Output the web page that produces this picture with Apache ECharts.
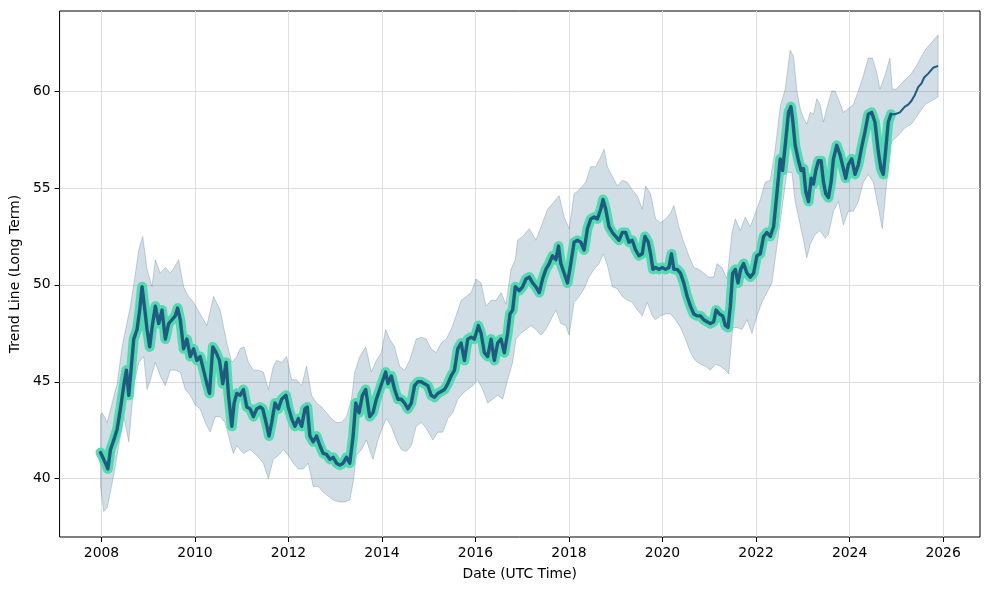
<!DOCTYPE html>
<html>
<head>
<meta charset="utf-8">
<script src="https://cdn.jsdelivr.net/npm/echarts@6/dist/echarts.min.js"></script>
<style>
html,body{margin:0;padding:0;background:#ffffff;}
#chart{width:989px;height:590px;}
</style>
</head>
<body>
<div id="chart"></div>
<script>
// ---- DATA ----
const trendYears = [2007.98,2008.086,2008.136,2008.193,2008.264,2008.335,2008.406,2008.477,2008.534,2008.584,2008.633,2008.69,2008.761,2008.818,2008.868,2008.918,2008.975,2009.032,2009.088,2009.152,2009.224,2009.295,2009.366,2009.437,2009.508,2009.579,2009.629,2009.685,2009.757,2009.828,2009.899,2009.97,2010.041,2010.112,2010.183,2010.254,2010.311,2010.382,2010.453,2010.524,2010.595,2010.666,2010.717,2010.788,2010.837,2010.894,2010.965,2011.036,2011.108,2011.179,2011.25,2011.321,2011.392,2011.449,2011.52,2011.584,2011.641,2011.712,2011.783,2011.854,2011.946,2011.996,2012.067,2012.138,2012.21,2012.281,2012.352,2012.401,2012.458,2012.529,2012.6,2012.672,2012.743,2012.814,2012.885,2012.956,2013.027,2013.098,2013.169,2013.24,2013.311,2013.382,2013.439,2013.51,2013.581,2013.652,2013.737,2013.808,2013.879,2013.95,2014.021,2014.078,2014.128,2014.199,2014.27,2014.341,2014.412,2014.483,2014.555,2014.626,2014.697,2014.768,2014.839,2014.91,2014.981,2015.052,2015.123,2015.194,2015.265,2015.337,2015.408,2015.479,2015.55,2015.621,2015.692,2015.763,2015.834,2015.905,2015.976,2016.062,2016.119,2016.19,2016.261,2016.332,2016.403,2016.474,2016.545,2016.616,2016.687,2016.737,2016.794,2016.851,2016.936,2017.007,2017.079,2017.15,2017.221,2017.292,2017.363,2017.434,2017.505,2017.576,2017.647,2017.718,2017.775,2017.825,2017.896,2017.967,2018.038,2018.109,2018.18,2018.252,2018.323,2018.394,2018.465,2018.536,2018.607,2018.678,2018.728,2018.785,2018.856,2018.927,2018.998,2019.069,2019.14,2019.211,2019.282,2019.353,2019.424,2019.495,2019.567,2019.623,2019.695,2019.745,2019.794,2019.851,2019.922,2019.993,2020.065,2020.136,2020.192,2020.242,2020.313,2020.384,2020.455,2020.527,2020.598,2020.669,2020.74,2020.811,2020.882,2020.953,2021.024,2021.095,2021.145,2021.216,2021.287,2021.344,2021.401,2021.451,2021.5,2021.557,2021.614,2021.671,2021.735,2021.806,2021.877,2021.948,2022.019,2022.091,2022.162,2022.233,2022.304,2022.375,2022.446,2022.517,2022.567,2022.624,2022.695,2022.745,2022.78,2022.837,2022.908,2022.965,2023.015,2023.065,2023.122,2023.179,2023.228,2023.278,2023.335,2023.392,2023.442,2023.491,2023.548,2023.605,2023.655,2023.726,2023.797,2023.868,2023.918,2023.975,2024.046,2024.117,2024.188,2024.259,2024.33,2024.401,2024.472,2024.543,2024.614,2024.671,2024.721,2024.771,2024.828,2024.885];
const trendValues = [41.35,40.8,40.5,41.5,42.0,42.55,43.6,44.8,45.6,44.3,45.6,47.2,47.7,48.7,49.9,48.9,47.7,46.8,47.9,48.9,48.0,48.7,47.2,48.0,48.2,48.4,48.8,48.2,46.7,47.2,46.3,46.7,46.1,46.3,45.6,44.9,44.4,46.8,46.5,46.1,44.9,46.0,44.3,42.7,43.9,44.4,44.3,44.6,43.7,43.6,43.2,43.6,43.7,43.6,42.9,42.2,42.9,43.9,43.6,44.1,44.3,43.7,43.1,42.7,43.1,42.7,43.6,43.7,42.2,41.9,42.2,41.7,41.3,41.25,41.0,41.1,40.8,40.7,40.8,41.1,40.8,42.2,43.9,43.4,44.3,44.6,43.2,43.4,44.1,44.6,45.1,45.5,44.9,45.3,44.6,44.1,44.1,43.9,43.6,43.9,44.8,45.0,45.0,44.9,44.8,44.3,44.2,44.4,44.5,44.6,44.9,45.3,45.6,46.7,47.0,46.1,47.2,47.3,47.2,47.9,47.5,46.5,46.3,47.2,46.1,47.0,47.2,46.5,47.5,48.5,48.7,49.9,49.7,49.9,50.3,50.4,50.1,49.9,49.6,50.3,50.8,51.1,51.5,51.3,52.0,51.1,50.6,50.1,51.1,52.2,52.3,52.2,51.8,52.9,53.4,53.5,53.4,53.9,54.4,53.9,53.0,52.7,52.5,52.3,52.7,52.7,52.2,52.3,51.8,51.5,51.6,52.5,52.2,51.6,50.8,50.9,50.8,50.9,50.8,50.9,51.6,50.8,50.8,50.6,50.1,49.4,48.9,48.5,48.4,48.4,48.2,48.1,48.0,48.1,48.7,48.5,48.4,47.9,47.8,48.9,50.6,50.8,50.1,50.8,51.1,50.6,50.4,50.6,51.5,51.6,52.5,52.7,52.5,53.0,54.7,56.5,55.9,57.2,58.9,59.2,58.6,57.2,56.4,55.9,56.0,54.8,54.3,55.5,55.2,55.9,56.4,56.4,55.3,54.7,54.5,55.3,56.5,57.2,56.7,56.0,55.5,56.2,56.5,55.7,56.2,57.1,57.9,58.8,58.9,58.4,56.9,56.0,55.7,56.9,58.4,58.8];

const forecastYears = [2024.885,2024.97,2025.077,2025.183,2025.254,2025.325,2025.396,2025.468,2025.539,2025.595,2025.681,2025.787,2025.894];
const forecastValues = [58.8,58.8,58.9,59.2,59.3,59.5,59.8,60.2,60.4,60.7,60.9,61.2,61.3];

const upperYears = [2007.98,2008.015,2008.122,2008.228,2008.335,2008.441,2008.534,2008.619,2008.726,2008.797,2008.882,2008.975,2009.081,2009.152,2009.259,2009.366,2009.472,2009.557,2009.65,2009.757,2009.863,2009.97,2010.112,2010.254,2010.396,2010.539,2010.681,2010.788,2010.894,2010.965,2011.051,2011.143,2011.25,2011.356,2011.463,2011.57,2011.676,2011.747,2011.854,2011.96,2012.067,2012.174,2012.281,2012.387,2012.494,2012.6,2012.707,2012.814,2012.92,2013.027,2013.134,2013.24,2013.347,2013.418,2013.524,2013.652,2013.773,2013.879,2013.986,2014.078,2014.164,2014.27,2014.377,2014.483,2014.59,2014.732,2014.839,2014.945,2015.052,2015.159,2015.265,2015.372,2015.479,2015.585,2015.692,2015.799,2015.905,2016.012,2016.119,2016.225,2016.332,2016.438,2016.545,2016.652,2016.758,2016.851,2016.901,2017.007,2017.15,2017.292,2017.434,2017.541,2017.647,2017.789,2017.896,2018.003,2018.109,2018.216,2018.358,2018.465,2018.571,2018.678,2018.749,2018.82,2018.927,2019.033,2019.14,2019.247,2019.353,2019.46,2019.567,2019.638,2019.744,2019.851,2019.958,2020.065,2020.171,2020.242,2020.349,2020.455,2020.562,2020.669,2020.775,2020.882,2020.989,2021.095,2021.166,2021.273,2021.379,2021.486,2021.557,2021.664,2021.771,2021.877,2021.984,2022.091,2022.197,2022.304,2022.41,2022.517,2022.624,2022.73,2022.802,2022.873,2022.944,2023.015,2023.086,2023.157,2023.228,2023.299,2023.37,2023.442,2023.513,2023.619,2023.69,2023.761,2023.868,2023.975,2024.081,2024.188,2024.295,2024.401,2024.487,2024.579,2024.65,2024.757,2024.863,2024.913,2025.006,2025.148,2025.29,2025.432,2025.539,2025.645,2025.752,2025.894];
const upperValues = [43.3,43.4,42.9,43.9,44.9,46.8,47.9,48.9,50.6,51.8,52.5,50.8,49.9,51.3,50.6,50.9,50.6,50.9,51.3,49.9,49.4,49.1,48.5,47.9,49.4,48.7,47.0,46.0,46.3,46.7,46.8,46.0,45.6,45.6,45.5,44.6,45.8,46.1,46.0,46.3,45.1,45.1,44.8,45.8,44.3,43.9,43.7,43.4,43.1,42.9,42.9,43.2,44.1,45.5,46.3,46.8,45.5,46.1,46.5,47.7,47.2,46.8,45.8,45.6,46.1,47.2,47.3,47.2,46.7,46.5,47.0,47.2,47.7,48.4,49.2,49.4,49.6,50.3,50.1,48.9,49.2,49.2,49.6,49.0,50.8,51.3,52.3,52.5,52.9,52.3,53.2,53.9,54.2,54.6,53.5,52.9,54.7,54.9,55.3,56.1,56.1,56.6,57.0,56.1,55.6,55.1,55.4,55.3,54.9,54.6,53.9,55.1,54.7,53.4,53.2,53.4,53.7,54.1,53.0,52.2,51.5,50.9,50.8,50.6,50.4,50.4,51.1,50.9,50.3,52.7,53.4,52.8,53.5,53.0,53.7,54.4,55.3,55.4,57.0,59.2,60.1,62.1,61.8,60.0,59.1,58.6,58.3,58.9,58.8,59.6,59.3,58.4,59.1,60.0,60.0,59.6,58.9,59.1,59.3,60.0,60.8,61.7,61.7,61.0,60.1,60.8,61.7,60.1,60.1,60.5,60.8,61.3,61.8,62.2,62.5,62.9];

const lowerYears = [2007.98,2008.05,2008.122,2008.264,2008.37,2008.477,2008.584,2008.69,2008.797,2008.904,2008.975,2009.046,2009.152,2009.259,2009.366,2009.472,2009.579,2009.685,2009.792,2009.899,2010.006,2010.112,2010.219,2010.325,2010.432,2010.539,2010.645,2010.752,2010.82,2010.894,2011.036,2011.179,2011.321,2011.463,2011.57,2011.676,2011.783,2011.889,2011.996,2012.103,2012.21,2012.316,2012.423,2012.529,2012.636,2012.743,2012.849,2012.956,2013.098,2013.205,2013.311,2013.382,2013.453,2013.56,2013.666,2013.773,2013.808,2013.915,2014.021,2014.093,2014.199,2014.306,2014.412,2014.519,2014.626,2014.732,2014.839,2014.945,2015.088,2015.194,2015.301,2015.408,2015.514,2015.621,2015.728,2015.834,2015.941,2016.047,2016.154,2016.261,2016.367,2016.474,2016.581,2016.687,2016.794,2016.865,2016.972,2017.079,2017.185,2017.292,2017.398,2017.505,2017.612,2017.718,2017.825,2017.932,2018.003,2018.109,2018.216,2018.323,2018.429,2018.536,2018.643,2018.735,2018.82,2018.927,2019.033,2019.14,2019.247,2019.353,2019.46,2019.567,2019.673,2019.78,2019.851,2019.958,2020.065,2020.171,2020.278,2020.384,2020.491,2020.598,2020.704,2020.811,2020.918,2021.024,2021.131,2021.238,2021.344,2021.415,2021.5,2021.593,2021.7,2021.806,2021.913,2022.019,2022.126,2022.233,2022.339,2022.446,2022.553,2022.659,2022.766,2022.837,2022.944,2023.015,2023.086,2023.157,2023.264,2023.37,2023.477,2023.548,2023.655,2023.761,2023.868,2023.975,2024.081,2024.188,2024.295,2024.401,2024.508,2024.614,2024.7,2024.792,2024.899,2025.041,2025.183,2025.325,2025.468,2025.61,2025.752,2025.894];
const lowerValues = [39.6,38.3,38.5,40.2,41.7,43.2,41.9,44.8,46.0,46.3,44.6,45.1,46.0,45.3,44.8,45.6,45.6,45.5,44.6,44.3,43.8,43.6,42.9,42.4,43.2,43.2,42.9,41.9,41.3,41.7,41.3,41.5,41.2,40.8,40.0,41.0,41.2,41.5,41.2,40.8,40.5,40.5,40.8,39.6,39.6,39.3,39.1,38.9,38.8,38.8,38.9,39.8,41.2,41.5,42.0,41.2,41.0,42.0,42.7,43.1,42.7,42.0,41.5,41.4,41.7,42.7,42.9,42.6,42.0,42.4,42.4,43.1,43.4,44.1,44.4,44.6,44.8,45.1,44.6,43.9,44.1,44.3,44.1,45.1,46.0,47.2,47.5,47.7,47.9,47.7,47.4,47.7,48.2,48.7,48.0,47.9,47.4,49.1,49.4,49.8,50.4,50.8,51.1,51.6,51.0,49.9,49.8,49.4,49.2,49.1,48.7,48.4,49.1,48.4,48.2,48.4,48.5,48.5,48.2,47.8,47.2,46.5,46.1,45.9,45.8,45.6,45.9,45.8,45.6,45.4,47.8,47.8,47.7,48.2,47.5,48.4,49.1,49.6,50.1,52.0,53.9,55.8,55.8,54.3,53.1,52.3,51.4,52.1,52.6,52.8,52.4,52.6,53.8,54.3,53.1,53.8,53.8,54.3,55.3,55.7,55.3,54.0,52.9,55.2,57.4,57.7,58.1,58.3,58.8,59.3,59.5,59.7];

const xTickValues = [2008,2010,2012,2014,2016,2018,2020,2022,2024,2026];
const yTickValues = [40,45,50,55,60];
const xAxisTitle = 'Date (UTC Time)';
const yAxisTitle = 'Trend Line (Long Term)';

// ---- CHART ----
const pairs = (xs, ys) => xs.map((x, i) => [x, ys[i]]);
const FONT = 'DejaVu Sans';
const chart = echarts.init(document.getElementById('chart'), null, {renderer: 'canvas'});

chart.setOption({
  animation: false,
  backgroundColor: '#ffffff',
  grid: {left: 57, right: 9, top: 11, bottom: 53, show: true, borderColor: '#000000', borderWidth: 1, backgroundColor: 'transparent'},
  xAxis: {
    type: 'value', min: 2007.104, max: 2026.79,
    name: xAxisTitle, nameLocation: 'middle', nameGap: 30,
    nameTextStyle: {fontFamily: FONT, fontSize: 13.9, color: '#000'},
    axisLine: {show: false},
    axisTick: {show: true, inside: false, length: 5, customValues: xTickValues, lineStyle: {color: '#000', width: 1}},
    axisLabel: {customValues: xTickValues, margin: 9, fontFamily: FONT, fontSize: 13.9, color: '#000', formatter: v => String(Math.round(v))},
    splitLine: {show: true, lineStyle: {color: '#dedede', width: 1}}
  },
  yAxis: {
    type: 'value', min: 36.99, max: 64.13,
    name: yAxisTitle, nameLocation: 'middle', nameGap: 32,
    nameTextStyle: {fontFamily: FONT, fontSize: 13.9, color: '#000'},
    axisLine: {show: false},
    axisTick: {show: true, inside: false, length: 5, customValues: yTickValues, lineStyle: {color: '#000', width: 1}},
    axisLabel: {customValues: yTickValues, margin: 9, fontFamily: FONT, fontSize: 13.9, color: '#000', formatter: v => String(Math.round(v))},
    splitLine: {show: true, lineStyle: {color: '#dedede', width: 1}}
  },
  series: [
    {
      type: 'custom', name: 'band', silent: true, z: 1,
      data: [[upperYears[0], upperValues[0]]],
      renderItem: function (params, api) {
        const pts = [];
        for (let i = 0; i < upperYears.length; i++) pts.push(api.coord([upperYears[i], upperValues[i]]));
        for (let i = lowerYears.length - 1; i >= 0; i--) pts.push(api.coord([lowerYears[i], lowerValues[i]]));
        return {type: 'polygon', shape: {points: pts}, style: {fill: 'rgba(31,90,126,0.20)', stroke: 'rgba(31,90,126,0.24)', lineWidth: 1}};
      }
    },
    {
      type: 'line', name: 'highlight', data: pairs(trendYears, trendValues), showSymbol: false, z: 3,
      lineStyle: {color: '#52dbb1', width: 10, cap: 'round', join: 'round'}
    },
    {
      type: 'line', name: 'trend', data: pairs(trendYears, trendValues), showSymbol: false, z: 4,
      lineStyle: {color: '#1f5b80', width: 3.4, cap: 'round', join: 'round'}
    },
    {
      type: 'line', name: 'forecast', data: pairs(forecastYears, forecastValues), showSymbol: false, z: 4,
      lineStyle: {color: '#1f5b80', width: 2, join: 'round'}
    }
  ]
});
</script>
</body>
</html>
